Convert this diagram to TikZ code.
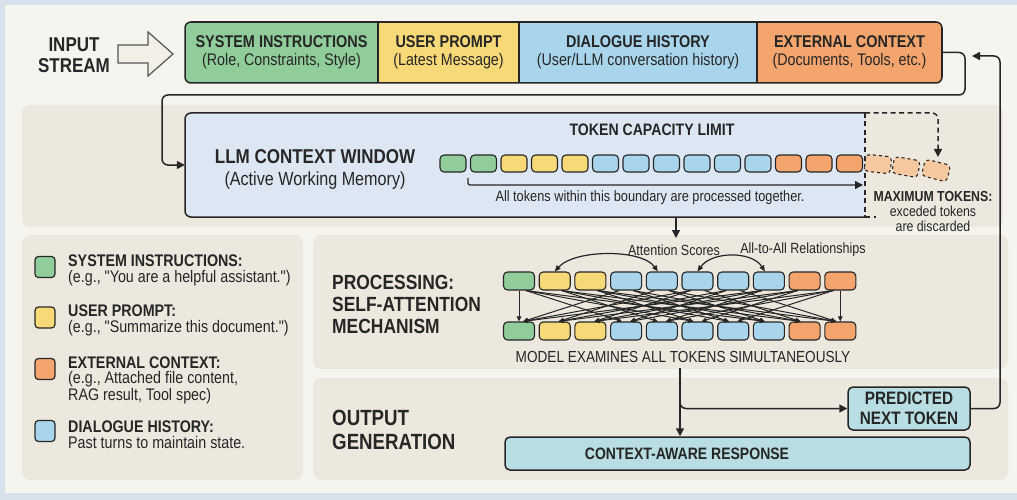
\documentclass[tikz,border=0pt]{standalone}
\usepackage{fontspec}
\setmainfont{Liberation Sans}[FakeStretch=0.85, Ligatures=TeXOff]
\usetikzlibrary{arrows.meta,calc}
\definecolor{bgblue}{HTML}{D6E1EC}
\definecolor{cream}{HTML}{F5F4EF}
\definecolor{tanp}{HTML}{EDE8DD}
\definecolor{cgreen}{HTML}{90CD9B}
\definecolor{cyellow}{HTML}{F7D978}
\definecolor{cblue}{HTML}{A9D5EC}
\definecolor{corange}{HTML}{F4A56E}
\definecolor{cwfill}{HTML}{DCE7F3}
\definecolor{tealf}{HTML}{B8DDE3}
\definecolor{ink}{HTML}{262626}
\definecolor{fadeor}{HTML}{F5C8A0}
\definecolor{arrfill}{HTML}{F2EFE7}
\definecolor{arrdraw}{HTML}{555555}
\newcommand{\fsz}[2]{\fontsize{#1}{#2}\selectfont}
\tikzset{
  every node/.style={text=ink},
  conn/.style={draw=ink, line width=1.5pt, -{Triangle[length=8pt,width=8pt]}},
  dsh/.style={draw=ink, line width=1.5pt, dash pattern=on 5pt off 3.5pt},
  seg/.style={draw=ink, line width=1.5pt, minimum height=61pt, inner sep=0pt, align=center, font=\fsz{16.8}{18.5}},
  tok/.style={draw=ink, line width=1.1pt, rounded corners=4pt, minimum width=26pt, minimum height=17pt, inner sep=0pt},
  ptok/.style={tok, minimum width=31pt, minimum height=18pt},
  lsq/.style={draw=ink, line width=1.2pt, rounded corners=3.5pt, minimum width=20pt, minimum height=21pt, inner sep=0pt},
  ltext/.style={anchor=west, align=left, inner sep=0pt, font=\fsz{16.8}{15.5}},
  tealbox/.style={draw=ink, line width=1.5pt, fill=tealf, rounded corners=5pt, inner sep=0pt},
  att/.style={draw=ink, line width=1pt, -{Triangle[length=5pt,width=4.5pt]}},
  curv/.style={draw=ink, line width=1.2pt, {Triangle[length=6pt,width=5pt]}-{Triangle[length=6pt,width=5pt]}}
}
\begin{document}
\begin{tikzpicture}[x=1pt,y=-1pt]
\useasboundingbox (0,0) rectangle (1017,500);
\fill[bgblue] (0,0) rectangle (1017,500);
\fill[cream] (5,5) rectangle (1017,493);
% panels
\fill[tanp, rounded corners=8pt] (22,105) rectangle (1003,227);
\fill[tanp, rounded corners=8pt] (22,235) rectangle (303,480);
\fill[tanp, rounded corners=8pt] (313,235) rectangle (1008,369);
\fill[tanp, rounded corners=8pt] (313,378) rectangle (1008,480);

% input stream
\node[align=center, font=\bfseries\fsz{20}{21}] (instream) at (74,55) {INPUT\\STREAM};
\draw[fill=arrfill, draw=arrdraw, line width=1.2pt] (118,45) -- (148,45) -- (148,32) -- (173,54) -- (148,76) -- (148,63) -- (118,63) -- cycle;

% strip
\begin{scope}
\clip[rounded corners=6pt] (185,22) rectangle (942,83);
\node[seg, fill=cgreen, minimum width=193pt] (sys) at (281.5,52.5) {{\bfseries\fsz{17}{18.5}SYSTEM INSTRUCTIONS}\\(Role, Constraints, Style)};
\node[seg, fill=cyellow, minimum width=141pt] (usr) at (448.5,52.5) {{\bfseries\fsz{17}{18.5}USER PROMPT}\\(Latest Message)};
\node[seg, fill=cblue, minimum width=238pt] (dlg) at (638,52.5) {{\bfseries\fsz{17}{18.5}DIALOGUE HISTORY}\\(User/LLM conversation history)};
\node[seg, fill=corange, minimum width=185pt] (ext) at (849.5,52.5) {{\bfseries\fsz{17}{18.5}EXTERNAL CONTEXT}\\(Documents, Tools, etc.)};
\end{scope}
\draw[ink, line width=1.5pt, rounded corners=6pt] (185,22) rectangle (942,83);

% context window
\node[draw=none, minimum width=680pt, minimum height=104pt, inner sep=0pt] (cw) at (525,165) {};
\fill[cwfill, rounded corners=6pt] (185,113) rectangle (865,217);
\fill[cwfill] (855,113) rectangle (865,217);
\draw[ink, line width=1.5pt, rounded corners=6pt] (865,113) -- (185,113) -- (185,217) -- (865,217);
\draw[dsh] (865,113) -- (865,217);
\draw[dsh] (865,217) -- (876,217);
\draw[dsh, rounded corners=6pt, -{Triangle[length=8pt,width=8pt]}] (865,113) -- (938,113) -- (938,157);

\node[align=center, font=\fsz{19}{22}] (cwt) at (315,169) {{\bfseries\fsz{20}{22}LLM CONTEXT WINDOW}\\(Active Working Memory)};
\node[font=\bfseries\fsz{16.6}{18}] (cap) at (652,130) {TOKEN CAPACITY LIMIT};
\foreach \c [count=\k from 0] in {cgreen,cgreen,cyellow,cyellow,cyellow,cblue,cblue,cblue,cblue,cblue,cblue,corange,corange,corange}
  \node[tok, fill=\c] (t\k) at ({453+30.5*\k},163.5) {};
\node[tok, fill=fadeor, dashed, rotate=-6] (x1) at (878,164) {};
\node[tok, fill=fadeor, dashed, rotate=-10] (x2) at (906,167) {};
\node[tok, fill=fadeor, dashed, rotate=-14] (x3) at (936,170.5) {};

\coordinate (brk) at (468,178);
\coordinate (brkend) at (863,185);
\draw[conn, line width=1.3pt, rounded corners=2pt] (brk) -- (468,185) -- (brkend);
\node[font=\fsz{15}{17}] (alltok) at (650,198) {All tokens within this boundary are processed together.};
\node[align=center, font=\fsz{14.5}{15}] (maxt) at (933,212) {{\bfseries MAXIMUM TOKENS:}\\exceded tokens\\are discarded};

% into processing
\coordinate (pin) at (676,238);
\draw[conn] (cw.south -| pin) -- (pin);

% processing
\node[anchor=west, align=left, inner sep=0pt, font=\bfseries\fsz{20.5}{22}] (proct) at (332,304) {PROCESSING:\\SELF-ATTENTION\\MECHANISM};
\foreach \c [count=\k from 0] in {cgreen,cyellow,cyellow,cblue,cblue,cblue,cblue,cblue,corange,corange}{
  \node[ptok, fill=\c] (p\k) at ({519+35.7*\k},281) {};
  \node[ptok, fill=\c] (q\k) at ({519+35.7*\k},331) {};
}
\node[font=\fsz{14.75}{17}] (attsc) at (674,250) {Attention Scores};
\node[font=\fsz{14.75}{17}] (a2a) at (803,250) {All-to-All Relationships};
\draw[curv] (p1.north) .. controls (575,249) and (642,249) .. ([xshift=-4pt]p4.north);
\draw[curv] (p5.north) .. controls (712,251) and (752,251) .. ([xshift=-4pt]p7.north);
\draw[att] (p0.south) -- (q0.north);
\draw[att] (p9.south) -- (q9.north);
\foreach \i/\j in {0/3,1/4,2/5,3/6,4/7,5/8,6/9,3/0,4/1,5/2,6/3,7/4,8/5,9/6,0/5,1/6,2/7,3/8,4/9,5/0,6/1,7/2,8/3,9/4,0/7,1/8,2/9,7/0,8/1,9/2}{
  \pgfmathsetmacro\s{ifthenelse(\j>\i,7,-7)}
  \pgfmathsetmacro\e{ifthenelse(\j>\i,-4,4)}
  \draw[att] ([xshift=\s pt]p\i.south) -- ([xshift=\e pt]q\j.north);
}
\node[font=\fsz{16}{18}] (model) at (683,357) {MODEL EXAMINES ALL TOKENS SIMULTANEOUSLY};

% output
\node[anchor=west, align=left, inner sep=0pt, font=\bfseries\fsz{22}{24}] (outt) at (332,430) {OUTPUT\\GENERATION};
\node[tealbox, minimum width=122pt, minimum height=43pt, align=center, font=\bfseries\fsz{18}{20}] (pred) at (909,408.5) {PREDICTED\\NEXT TOKEN};
\node[tealbox, minimum width=465pt, minimum height=33pt] (resp) at (737.5,453.5) {};
\node[font=\bfseries\fsz{16.5}{18}] (respt) at (687,453.5) {CONTEXT-AWARE RESPONSE};
\coordinate (oc) at (680,368);
\draw[conn] (oc) -- (resp.north -| oc);
\draw[conn, rounded corners=6pt] (680,395) -- (680,408.5) -- (pred.west);

% feedback loop
\coordinate (fb) at (972,56);
\draw[conn, rounded corners=6pt] (pred.east) -- (1000,408.5) -- (1000,56) -- (fb);
% strip to context window
\draw[conn, rounded corners=6pt] (ext.east) -- (965,52.5) -- (965,95) -- (162,95) -- (162,165) -- (cw.west);

% legend
\node[lsq, fill=cgreen] (l1) at (45,267) {};
\node[ltext] (l1t) at (68,270.5) {\textbf{SYSTEM INSTRUCTIONS:}\\(e.g., "You are a helpful assistant.")};
\node[lsq, fill=cyellow] (l2) at (45,317.5) {};
\node[ltext] (l2t) at (68,320.5) {\textbf{USER PROMPT:}\\(e.g., "Summarize this document.")};
\node[lsq, fill=corange] (l3) at (45,369) {};
\node[ltext] (l3t) at (68,380) {\textbf{EXTERNAL CONTEXT:}\\(e.g., Attached file content,\\RAG result, Tool spec)};
\node[lsq, fill=cblue] (l4) at (45,431) {};
\node[ltext] (l4t) at (68,434.5) {\textbf{DIALOGUE HISTORY:}\\Past turns to maintain state.};
\end{tikzpicture}
\end{document}
